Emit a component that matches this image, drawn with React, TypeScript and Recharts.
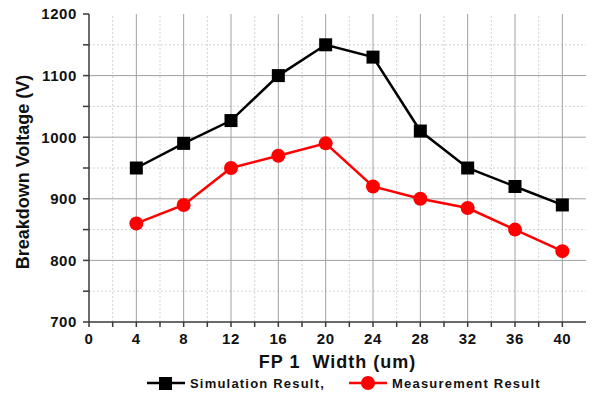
import { CartesianGrid, Legend, Line, LineChart, ReferenceLine, XAxis, YAxis } from 'recharts';

const widths = [4, 8, 12, 16, 20, 24, 28, 32, 36, 40];
const simulation = [950, 990, 1027, 1100, 1150, 1130, 1010, 950, 920, 890];
const measurement = [860, 890, 950, 970, 990, 920, 900, 885, 850, 815];

const majorXTicks = [0, 4, 8, 12, 16, 20, 24, 28, 32, 36, 40];
const minorXTicks = [2, 6, 10, 14, 18, 22, 26, 30, 34, 38];
const majorYTicks = [700, 800, 900, 1000, 1100, 1200];
const minorYTicks = [750, 850, 950, 1050, 1150];
const seriesOrder = ['sim', 'meas'];

const data = widths.map((w, i) => ({ w, sim: simulation[i], meas: measurement[i] }));

const FONT = '"Liberation Sans", Arial, sans-serif';
const AXIS = '#3a3a3a';
const tickStyle = { fontFamily: FONT, fontSize: 15, fontWeight: 700, fill: '#111', letterSpacing: 0.6 };

const SquareDot = (props: any) => {
  const { cx, cy } = props;
  if (cx == null || cy == null) return null;
  return <rect key={`s-${cx}`} x={cx - 6.5} y={cy - 6.5} width={13} height={13} fill="#000" />;
};

const CircleDot = (props: any) => {
  const { cx, cy } = props;
  if (cx == null || cy == null) return null;
  return <circle key={`c-${cx}`} cx={cx} cy={cy} r={7} fill="#ff0000" />;
};

const LegendContent = (props: any) => {
  const { payload = [] } = props;
  const items = [...payload].sort((a: any, b: any) => seriesOrder.indexOf(a.dataKey) - seriesOrder.indexOf(b.dataKey));
  return (
    <div style={{ display: 'flex', alignItems: 'center', paddingLeft: 147, fontFamily: FONT, fontWeight: 700, fontSize: 13, letterSpacing: 1.2, color: '#111' }}>
      {items.map((entry: any) => (
        <div key={entry.value} style={{ display: 'flex', alignItems: 'center', marginRight: 24 }}>
          <svg width={38} height={16} style={{ marginRight: 5 }}>
            <line x1={0} y1={8} x2={38} y2={8} stroke={entry.color} strokeWidth={2.5} />
            {entry.dataKey === 'sim' ? <rect x={12} y={2} width={13} height={13} fill={entry.color} /> : <circle cx={19} cy={8} r={7} fill={entry.color} />}
          </svg>
          <span>{entry.value}</span>
        </div>
      ))}
    </div>
  );
};

const YLabel = (props: any) => {
  const { viewBox } = props;
  const cy = viewBox.y + viewBox.height / 2 + 4;
  return (
    <text x={23} y={cy} transform={`rotate(-90 23 ${cy})`} textAnchor="middle" dominantBaseline="central" fontFamily={FONT} fontSize={18} fontWeight={700} fill="#111">
      Breakdown Voltage (V)
    </text>
  );
};

export default function App() {
  return (
    <div style={{ position: 'absolute', left: 0, top: 0, background: '#fff' }}>
      <LineChart width={593} height={394} data={data} margin={{ top: 14, right: 7, left: 0, bottom: 0 }}>
        <CartesianGrid stroke="none" />
        {minorXTicks.map((v) => (
          <ReferenceLine key={`mx${v}`} x={v} stroke="#d2d2d2" strokeDasharray="2 2" />
        ))}
        {minorYTicks.map((v) => (
          <ReferenceLine key={`my${v}`} y={v} stroke="#d2d2d2" strokeDasharray="2 2" />
        ))}
        {majorXTicks.slice(1).map((v) => (
          <ReferenceLine key={`Mx${v}`} x={v} stroke="#a0a0a0" />
        ))}
        {majorYTicks.slice(1, -1).map((v) => (
          <ReferenceLine key={`My${v}`} y={v} stroke="#a0a0a0" />
        ))}
        <XAxis
          dataKey="w"
          type="number"
          domain={[0, 42]}
          ticks={[...majorXTicks, ...minorXTicks].sort((a, b) => a - b)}
          tickFormatter={(v) => (v % 4 === 0 ? `${v}` : '')}
          interval={0}
          height={50}
          stroke={AXIS}
          strokeWidth={1.5}
          tickSize={5}
          tickMargin={6}
          tick={tickStyle}
          allowDataOverflow
          label={{ value: 'FP 1\u00a0 Width (um)', position: 'insideBottom', offset: 4, style: { fontFamily: FONT, fontSize: 18, fontWeight: 700, fill: '#111', letterSpacing: 1 } }}
        />
        <XAxis
          xAxisId="top"
          orientation="top"
          type="number"
          domain={[0, 42]}
          ticks={[...majorXTicks, ...minorXTicks].sort((a, b) => a - b)}
          interval={0}
          height={0}
          mirror
          tick={false}
          tickSize={4}
          stroke={AXIS}
          strokeWidth={1.5}
          allowDataOverflow
        />
        <YAxis
          type="number"
          domain={[700, 1200]}
          ticks={[...majorYTicks, ...minorYTicks].sort((a, b) => a - b)}
          tickFormatter={(v) => (v % 100 === 0 ? `${v}` : '')}
          interval={0}
          width={89}
          stroke={AXIS}
          strokeWidth={1.5}
          tickSize={6}
          tickMargin={6}
          tick={tickStyle}
          allowDataOverflow
          label={<YLabel />}
        />
        <YAxis
          yAxisId="right"
          orientation="right"
          type="number"
          domain={[700, 1200]}
          ticks={[...majorYTicks, ...minorYTicks].sort((a, b) => a - b)}
          interval={0}
          width={0}
          mirror
          tick={false}
          tickSize={4}
          stroke={AXIS}
          strokeWidth={1.5}
          allowDataOverflow
        />
        <Legend verticalAlign="bottom" height={22} content={<LegendContent />} wrapperStyle={{ left: 0, width: 593, bottom: -3 }} />
        <Line dataKey="sim" name="Simulation Result," stroke="#000" strokeWidth={2.5} dot={SquareDot} isAnimationActive={false} />
        <Line dataKey="meas" name="Measurement Result" stroke="#ff0000" strokeWidth={2.5} dot={CircleDot} isAnimationActive={false} />
      </LineChart>
    </div>
  );
}
